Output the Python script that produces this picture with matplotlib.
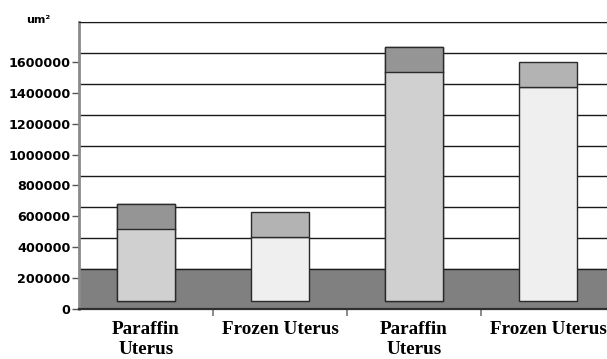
"""Stacked area bars (um^2) for paraffin vs frozen uterus sections, Excel-3D style."""
import numpy as np
import matplotlib
matplotlib.use("Agg")
import matplotlib.pyplot as plt

categories = ["Paraffin\nUterus", "Frozen Uterus", "Paraffin\nUterus", "Frozen Uterus"]
lower = [466000, 414000, 1484000, 1385000]
upper = [162000, 162000, 162000, 160000]
lower_colors = ["#dadada", "#efefef", "#dadada", "#efefef"]
upper_colors = ["#a0a0a0", "#b3b3b3", "#a0a0a0", "#b3b3b3"]
yticks = list(range(0, 1600001, 200000))

DEPTH = 58000     # back wall sits a little above the front axis
LIFT = 52000      # bars stand on the middle of the floor
plt.rcParams["hatch.linewidth"] = 0.6

fig = plt.figure(figsize=(6.07, 3.59), dpi=100)
ax = fig.add_axes([79 / 607, 50 / 359, 536 / 607, 287 / 359])
x = np.arange(len(categories))
ax.set_xlim(-0.5, len(categories) - 0.5)
ax.set_ylim(0, 1800000 + DEPTH)

# floor and back-wall gridlines
ax.axhspan(0, 200000 + DEPTH, color="#808080", zorder=0)
for v in range(200000, 1800001, 200000):
    ax.axhline(v + DEPTH, color="#1a1a1a", lw=1, zorder=1)

w = 0.433
ax.bar(x, lower, w, bottom=LIFT, color=lower_colors, edgecolor="#2a2a2a", lw=1, zorder=3)
ax.bar(x, upper, w, bottom=np.array(lower) + LIFT, color=upper_colors,
       edgecolor="#2a2a2a", lw=1, zorder=3)
# faint horizontal texture on the paraffin bars
for i in (0, 2):
    ax.bar(x[i], lower[i], w, bottom=LIFT, fill=False, hatch="-" * 30,
           edgecolor="#d0d0d0", lw=0, zorder=3.5)
    ax.bar(x[i], upper[i], w, bottom=lower[i] + LIFT, fill=False, hatch="-" * 30,
           edgecolor="#959595", lw=0, zorder=3.5)
    ax.bar(x[i], lower[i] + upper[i], w, bottom=LIFT, fill=False,
           edgecolor="#2a2a2a", lw=1, zorder=3.6)
    ax.plot([x[i] - w / 2, x[i] + w / 2], [lower[i] + LIFT] * 2, color="#2a2a2a",
            lw=1, zorder=3.7)

ax.spines["right"].set_visible(False)
ax.spines["top"].set_color("#1a1a1a")
ax.spines["left"].set_color("#8a8a8a")
ax.spines["left"].set_linewidth(2)
ax.spines["bottom"].set_color("#303030")
ax.spines["bottom"].set_linewidth(1.6)
ax.spines["bottom"].set_zorder(5)

ax.set_yticks(yticks)
ax.set_yticklabels([str(v) for v in yticks], fontfamily="DejaVu Sans",
                   fontweight="bold", fontsize=9.2)
ax.tick_params(axis="y", length=5, width=1, color="#555555", pad=1)

ax.set_xticks(x)
ax.set_xticklabels(categories, fontfamily="Liberation Serif", fontweight="bold",
                   fontsize=13.8, linespacing=1.18)
ax.tick_params(axis="x", length=0, pad=9)
ax.set_xticks(x[:-1] + 0.5, minor=True)
ax.tick_params(axis="x", which="minor", length=5, width=1.2, color="#777777", direction="out")

fig.text(38 / 607, 1 - 20 / 359, "um\u00b2", ha="center", va="center",
         fontfamily="DejaVu Sans", fontweight="bold", fontsize=8)

fig.savefig("out.png", dpi=100)
